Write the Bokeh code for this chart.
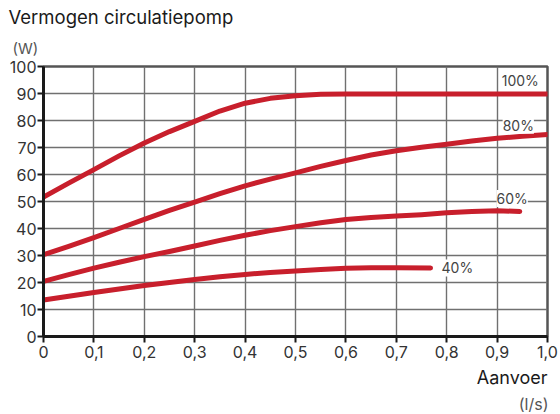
from bokeh.plotting import figure
from bokeh.models import Range1d, FixedTicker, Label, Title
from bokeh.embed import file_html
from bokeh.resources import INLINE

# ---- data ----
x_100 = [0, 0.05, 0.1, 0.15, 0.2, 0.25, 0.3, 0.35, 0.4, 0.45, 0.5, 0.55, 0.6, 0.7, 0.8, 0.9, 1.0]
y_100 = [51.6, 56.8, 61.8, 66.9, 71.7, 75.9, 79.7, 83.5, 86.4, 88.2, 89.2, 89.7, 89.8, 89.8, 89.8, 89.8, 89.8]

x_80 = [0, 0.05, 0.1, 0.15, 0.2, 0.25, 0.3, 0.35, 0.4, 0.45, 0.5, 0.55, 0.6, 0.65, 0.7, 0.75, 0.8, 0.85, 0.9, 0.95, 1.0]
y_80 = [30.3, 33.4, 36.6, 40.0, 43.4, 46.7, 49.8, 52.9, 55.8, 58.3, 60.6, 63.0, 65.2, 67.2, 68.8, 70.1, 71.2, 72.4, 73.4, 74.2, 74.8]

x_60 = [0, 0.05, 0.1, 0.15, 0.2, 0.25, 0.3, 0.35, 0.4, 0.45, 0.5, 0.55, 0.6, 0.65, 0.7, 0.75, 0.8, 0.85, 0.9, 0.945]
y_60 = [20.4, 22.9, 25.3, 27.5, 29.6, 31.5, 33.5, 35.6, 37.5, 39.2, 40.7, 42.1, 43.3, 44.1, 44.6, 45.1, 45.8, 46.3, 46.6, 46.3]

x_40 = [0, 0.05, 0.1, 0.15, 0.2, 0.25, 0.3, 0.35, 0.4, 0.45, 0.5, 0.55, 0.6, 0.65, 0.7, 0.768]
y_40 = [13.5, 14.9, 16.3, 17.6, 18.9, 20.0, 21.1, 22.1, 23.0, 23.7, 24.3, 24.8, 25.3, 25.5, 25.5, 25.4]

series_names = ["100%", "80%", "60%", "40%"]

x_ticks = [0, 0.1, 0.2, 0.3, 0.4, 0.5, 0.6, 0.7, 0.8, 0.9, 1.0]
x_tick_labels = ["0", "0,1", "0,2", "0,3", "0,4", "0,5", "0,6", "0,7", "0,8", "0,9", "1,0"]
y_ticks = [0, 10, 20, 30, 40, 50, 60, 70, 80, 90, 100]

title_text = "Vermogen circulatiepomp"
y_unit = "(W)"
x_title = "Aanvoer"
x_unit = "(l/s)"

# ---- styling ----
FONT = "Inter"
RED = "#c81f2c"

p = figure(width=560, height=414, output_backend="svg", toolbar_location=None,
           x_range=Range1d(0, 1.0), y_range=Range1d(0, 100),
           min_border_left=43, min_border_right=13, min_border_top=66, min_border_bottom=77)
p.background_fill_color = "white"
p.border_fill_color = "white"
p.outline_line_color = "#555555"
p.outline_line_width = 2.5

p.xaxis.ticker = FixedTicker(ticks=x_ticks)
p.yaxis.ticker = FixedTicker(ticks=y_ticks)
p.xaxis.major_label_overrides = {t: l for t, l in zip(x_ticks, x_tick_labels)}
p.xgrid.ticker = FixedTicker(ticks=x_ticks)
p.ygrid.ticker = FixedTicker(ticks=y_ticks)
for g in (p.xgrid, p.ygrid):
    g.grid_line_color = "#707070"
    g.grid_line_width = 1.4

for ax in (p.xaxis, p.yaxis):
    ax.axis_line_color = "#1a1a1a"
    ax.axis_line_width = 3
    ax.major_tick_line_color = "#1a1a1a"
    ax.major_tick_line_width = 2
    ax.major_tick_in = 0
    ax.major_tick_out = 6
    ax.minor_tick_line_color = None
    ax.major_label_text_font = FONT
    ax.major_label_text_font_size = "16px"
    ax.major_label_text_color = "#333333"
p.yaxis.major_label_standoff = 1
p.xaxis.major_label_standoff = 3

curves = [(x_100, y_100), (x_80, y_80), (x_60, y_60), (x_40, y_40)]
for xs, ys in curves:
    p.line(xs, ys, line_color=RED, line_width=5, line_cap="round", line_join="round")

# curve labels (anchored on curve data)
lab_style = dict(text_font=FONT, text_font_size="14px", text_color="#444444",
                 background_fill_color="white", text_baseline="middle")
p.add_layout(Label(x=0.946, y=y_100[-1], text=series_names[0], text_align="center",
                   y_offset=14, **lab_style))
p.add_layout(Label(x=0.942, y=y_80[-2], text=series_names[1], text_align="center",
                   y_offset=11, **lab_style))
p.add_layout(Label(x=0.93, y=y_60[-1], text=series_names[2], text_align="center",
                   y_offset=13, **lab_style))
p.add_layout(Label(x=x_40[-1], y=y_40[-1], text=series_names[3], text_align="left",
                   x_offset=11, **lab_style))

# titles: first added sits closest to the frame
p.add_layout(Title(text=y_unit, align="left", offset=-31, text_font=FONT,
                   text_font_size="15px", text_color="#555555", text_font_style="normal",
                   standoff=18), "above")
p.add_layout(Title(text=title_text, align="left", offset=-35, text_font=FONT,
                   text_font_size="18.5px", text_color="#1a1a1a", text_font_style="normal",
                   standoff=0), "above")
p.add_layout(Title(text=x_title, align="right", offset=0, text_font=FONT,
                   text_font_size="18px", text_color="#1a1a1a", text_font_style="normal",
                   standoff=8), "below")
p.add_layout(Title(text=x_unit, align="right", offset=-1, text_font=FONT,
                   text_font_size="16px", text_color="#555555", text_font_style="normal",
                   standoff=1), "below")

open("out.html", "w").write(file_html(p, INLINE))
